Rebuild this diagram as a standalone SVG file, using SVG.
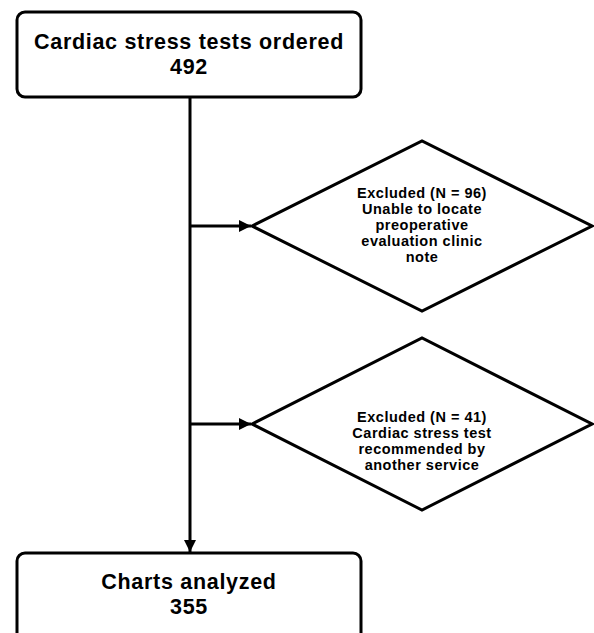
<svg xmlns="http://www.w3.org/2000/svg" width="594" height="633" viewBox="0 0 594 633">
<style>
.box{fill:#fff;stroke:#000;stroke-width:3}
.big{font-family:"Liberation Sans",Arial,sans-serif;font-weight:bold;font-size:21.5px;letter-spacing:0.7px;text-anchor:middle;fill:#000}
.small{font-family:"Liberation Sans",Arial,sans-serif;font-weight:bold;font-size:14.5px;letter-spacing:0.5px;text-anchor:middle;fill:#000}
.line{stroke:#000;stroke-width:3;fill:none}
</style>
<defs>
<marker id="ah" viewBox="0 0 10 10" refX="10" refY="5" markerWidth="4" markerHeight="4" markerUnits="strokeWidth" orient="auto">
<path d="M0,0 L10,5 L0,10 z" fill="#000"/>
</marker>
</defs>
<rect width="594" height="633" fill="#fff"/>
<g id="connectors">
<line class="line" x1="190" y1="97" x2="190" y2="552" marker-end="url(#ah)"/>
<line class="line" x1="190" y1="226" x2="251" y2="226" marker-end="url(#ah)"/>
<line class="line" x1="190" y1="424" x2="251" y2="424" marker-end="url(#ah)"/>
</g>
<g id="n1">
<rect class="box" x="17" y="12" width="344" height="85" rx="8"/>
<text class="big" x="189" y="49">Cardiac stress tests ordered</text>
<text class="big" x="189" y="74">492</text>
</g>
<g id="n2">
<polygon class="box" points="252,226 422,141 592,226 422,311"/>
<text class="small" x="422" y="198">Excluded (N = 96)</text>
<text class="small" x="422" y="214">Unable to locate</text>
<text class="small" x="422" y="230">preoperative</text>
<text class="small" x="422" y="246">evaluation clinic</text>
<text class="small" x="422" y="262">note</text>
</g>
<g id="n3">
<polygon class="box" points="252,424 422,338 592,424 422,510"/>
<text class="small" x="422" y="422">Excluded (N = 41)</text>
<text class="small" x="422" y="438">Cardiac stress test</text>
<text class="small" x="422" y="454">recommended by</text>
<text class="small" x="422" y="470">another service</text>
</g>
<g id="n4">
<rect class="box" x="17" y="553" width="344" height="90" rx="8"/>
<text class="big" x="189" y="589">Charts analyzed</text>
<text class="big" x="189" y="614">355</text>
</g>
</svg>
